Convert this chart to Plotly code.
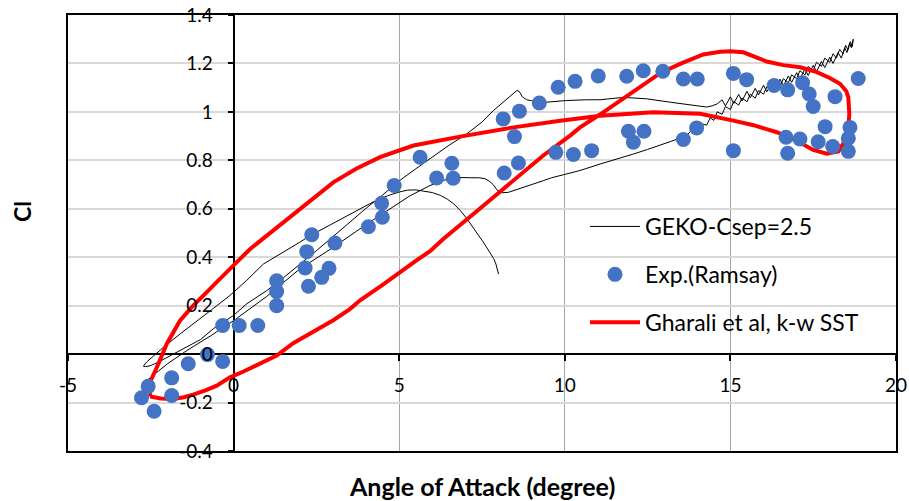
import plotly.graph_objects as go

# ---------------- data ----------------
exp_alpha = [-2.78, -2.58, -2.40, -1.87, -1.87, -1.37, -0.79, -0.33, -0.33, 0.17, 0.73,
             1.30, 1.30, 1.30, 2.36, 2.21, 2.16, 2.26, 2.66, 2.88, 3.06, 4.07, 4.49, 4.47,
             4.85, 5.63, 6.59, 6.13, 6.63, 8.14, 8.63, 8.48, 8.17, 8.60, 9.23, 9.80, 9.73,
             10.31, 11.01, 11.87, 12.37, 12.96, 13.58, 14.00, 15.09, 15.49, 16.32, 16.73,
             17.18, 17.38, 17.50, 18.16, 18.86, 10.26, 10.81, 11.92, 12.07, 12.39, 13.58,
             13.98, 15.09, 16.68, 16.73, 17.10, 17.65, 17.86, 18.09, 18.61, 18.56, 18.56]
exp_cl = [-0.180, -0.133, -0.236, -0.098, -0.171, -0.040, -0.002, -0.030, 0.118, 0.118, 0.118,
          0.303, 0.258, 0.200, 0.493, 0.423, 0.356, 0.280, 0.317, 0.354, 0.459, 0.526, 0.565, 0.623,
          0.696, 0.813, 0.788, 0.727, 0.726, 0.971, 1.003, 0.898, 0.748, 0.789, 1.037, 1.102, 0.833,
          1.126, 1.148, 1.147, 1.170, 1.168, 1.136, 1.136, 1.159, 1.133, 1.109, 1.091,
          1.120, 1.074, 1.022, 1.063, 1.138, 0.824, 0.840, 0.920, 0.875, 0.920, 0.886,
          0.934, 0.840, 0.895, 0.829, 0.888, 0.877, 0.939, 0.857, 0.936, 0.891, 0.837]

gharali_alpha = [-2.52, -2.20, -1.82, -1.50, -1.22, -0.85, -0.51, -0.11, 0.30, 0.70, 1.00, 1.30,
                 1.80, 2.51, 3.01, 3.50, 3.82, 4.52, 5.02, 5.50, 5.93, 6.33, 7.34, 8.35, 9.35,
                 10.16, 10.46, 11.06, 11.87, 12.47, 12.88, 13.48, 14.18, 14.69, 15.00, 15.39,
                 15.75, 16.10, 16.60, 17.11, 17.61, 18.00, 18.31, 18.50, 18.56, 18.59, 18.56,
                 18.46, 18.26, 17.91, 17.50, 17.00, 16.40, 15.70, 15.09, 14.09, 12.67, 11.07,
                 9.86, 8.45, 6.84, 5.43, 4.42, 3.70, 3.01, 2.01, 1.00, 0.50, -0.11, -0.61,
                 -1.27, -1.62, -2.02, -2.27, -2.50, -2.52, -2.52]
gharali_cl = [-0.175, -0.183, -0.185, -0.178, -0.167, -0.150, -0.130, -0.096, -0.072, -0.047, -0.028, -0.006,
              0.045, 0.100, 0.140, 0.185, 0.222, 0.288, 0.340, 0.385, 0.425, 0.475, 0.590, 0.706, 0.820,
              0.902, 0.936, 0.989, 1.067, 1.125, 1.160, 1.198, 1.237, 1.248, 1.250, 1.246,
              1.228, 1.208, 1.193, 1.184, 1.164, 1.140, 1.116, 1.085, 1.060, 0.992, 0.936,
              0.881, 0.837, 0.827, 0.843, 0.881, 0.916, 0.945, 0.964, 0.992, 0.998, 0.984,
              0.963, 0.936, 0.898, 0.861, 0.813, 0.765, 0.709, 0.600, 0.490, 0.434, 0.352, 0.283,
              0.193, 0.138, 0.042, -0.040, -0.109, -0.125, -0.175]

# GEKO: initial transient (from mean angle down to minimum angle)
geko_start_alpha = [8.00, 7.97, 7.92, 7.85, 7.78, 7.70, 7.62, 7.50, 7.35, 7.20, 7.04, 6.85, 6.65,
                    6.45, 6.25, 6.00, 5.75, 5.50, 5.25, 5.02, 4.70, 4.40, 4.10, 3.82, 3.40, 3.00,
                    2.60, 2.31, 2.00, 1.60, 1.20, 0.90, 0.40, -0.11, -0.60, -1.11, -1.60, -2.12,
                    -2.45, -2.62, -2.70, -2.72]
geko_start_cl = [0.330, 0.350, 0.372, 0.395, 0.412, 0.428, 0.445, 0.470, 0.500, 0.530, 0.560, 0.592, 0.620,
                 0.640, 0.655, 0.667, 0.674, 0.678, 0.677, 0.670, 0.656, 0.640, 0.620, 0.600, 0.570, 0.540,
                 0.510, 0.489, 0.462, 0.428, 0.395, 0.372, 0.305, 0.242, 0.190, 0.138, 0.085, 0.028,
                 -0.010, -0.032, -0.045, -0.050]

# GEKO: upstroke
geko_up_alpha = [-2.65, -2.50, -2.30, -2.00, -1.62, -1.00, -0.61, 0.00, 0.40, 1.00, 1.50, 2.00, 2.50,
                 3.00, 3.50, 4.00, 4.50, 5.00, 5.50, 6.00, 6.50, 7.00, 7.50, 7.84, 8.14, 8.35, 8.55,
                 8.62, 8.72, 8.85, 9.00, 9.45, 10.06, 10.66, 11.06, 11.77, 12.47, 13.18, 13.88, 14.28,
                 14.45, 14.60, 14.75, 14.85, 15.00, 15.10, 15.25, 15.35, 15.50, 15.60, 15.75, 15.85,
                 16.00, 16.10, 16.25, 16.35, 16.50, 16.60, 16.75, 16.85, 17.00, 17.10, 17.25, 17.35,
                 17.50, 17.60, 17.75, 17.85, 18.00, 18.10, 18.25, 18.35, 18.45, 18.52, 18.60, 18.65,
                 18.71]
geko_up_cl = [-0.052, -0.047, -0.035, -0.013, 0.014, 0.060, 0.105, 0.160, 0.208, 0.262, 0.315, 0.370, 0.427,
              0.485, 0.545, 0.602, 0.657, 0.715, 0.765, 0.815, 0.862, 0.905, 0.958, 1.005, 1.040, 1.062, 1.088,
              1.085, 1.062, 1.050, 1.046, 1.040, 1.047, 1.050, 1.050, 1.060, 1.054, 1.040, 1.026, 1.020,
              1.025, 1.033, 1.050, 1.025, 1.062, 1.035, 1.072, 1.045, 1.085, 1.058, 1.097, 1.070,
              1.110, 1.083, 1.122, 1.095, 1.135, 1.108, 1.148, 1.122, 1.162, 1.136, 1.177, 1.150,
              1.192, 1.166, 1.208, 1.183, 1.226, 1.200, 1.245, 1.222, 1.265, 1.245, 1.285, 1.265,
              1.300]

# GEKO: downstroke
geko_down_alpha = [18.68, 18.62, 18.55, 18.48, 18.40, 18.30, 18.20, 18.10, 18.00, 17.85, 17.75, 17.60,
                   17.50, 17.35, 17.25, 17.10, 17.00, 16.85, 16.75, 16.60, 16.50, 16.35, 16.25, 16.10,
                   16.00, 15.85, 15.75, 15.60, 15.50, 15.35, 15.25, 15.10, 15.00, 14.85, 14.75, 14.60,
                   14.50, 14.39, 14.28, 14.15, 14.00, 13.85, 13.70, 13.55, 13.40, 13.20, 13.00, 12.50,
                   12.07, 11.50, 11.07, 10.46, 10.06, 9.60, 9.35, 9.00, 8.65, 8.30, 8.10, 7.95, 7.85,
                   7.74, 7.60, 7.40, 7.14, 6.63, 6.30, 5.93, 5.33, 5.00, 4.50, 4.00, 3.00, 2.00, 1.00,
                   0.00, -0.70, -1.42, -2.00, -2.40, -2.62]
geko_down_cl = [1.270, 1.290, 1.255, 1.275, 1.240, 1.258, 1.222, 1.240, 1.205, 1.222, 1.188, 1.205,
                1.170, 1.188, 1.153, 1.170, 1.137, 1.153, 1.120, 1.137, 1.104, 1.120, 1.088, 1.104,
                1.073, 1.088, 1.057, 1.073, 1.042, 1.057, 1.028, 1.043, 1.010, 1.022, 0.990, 1.000,
                0.965, 0.975, 0.945, 0.950, 0.925, 0.928, 0.905, 0.905, 0.888, 0.878, 0.868, 0.845,
                0.826, 0.804, 0.785, 0.758, 0.744, 0.728, 0.716, 0.700, 0.682, 0.668, 0.666, 0.678, 0.698,
                0.712, 0.724, 0.728, 0.728, 0.730, 0.715, 0.696, 0.654, 0.625, 0.580, 0.535, 0.440, 0.352, 0.238,
                0.138, 0.075, 0.014, -0.040, -0.085, -0.109]

geko_alpha = geko_start_alpha + geko_up_alpha + geko_down_alpha
geko_cl = geko_start_cl + geko_up_cl + geko_down_cl

x_ticks = [-5, 0, 5, 10, 15, 20]
x_tick_text = ["-5", "0", "5", "10", "15", "20"]
y_ticks = [-0.4, -0.2, 0, 0.2, 0.4, 0.6, 0.8, 1.0, 1.2, 1.4]
y_tick_text = ["-0.4", "-0.2", "0", "0.2", "0.4", "0.6", "0.8", "1", "1.2", "1.4"]

FONT = "Lato"

# ---------------- figure ----------------
fig = go.Figure()
fig.add_trace(go.Scatter(x=geko_alpha, y=geko_cl, mode="lines",
                         line=dict(color="black", width=1),
                         name="GEKO-Csep=2.5", legendgroup="g1", legendrank=1))
fig.add_trace(go.Scatter(x=gharali_alpha, y=gharali_cl, mode="lines",
                         line=dict(color="#FF0000", width=4),
                         name="Gharali et al, k-w SST", legendgroup="g3", legendrank=3))
fig.add_trace(go.Scatter(x=exp_alpha, y=exp_cl, mode="markers",
                         marker=dict(color="#4472C4", size=15),
                         name="Exp.(Ramsay)", legendgroup="g2", legendrank=2))
# invisible trace to carry the axes crossing at zero
fig.add_trace(go.Scatter(x=[0], y=[0], xaxis="x2", yaxis="y2", mode="markers",
                         marker=dict(opacity=0), showlegend=False, hoverinfo="skip"))

y_zero_pos = (0 - (-0.4)) / 1.8
x_zero_pos = (0 - (-5)) / 25

fig.update_layout(
    width=909, height=501,
    margin=dict(l=68, r=13, t=15, b=50, autoexpand=False),
    paper_bgcolor="white", plot_bgcolor="white",
    font=dict(family=FONT, color="black"),
    showlegend=True,
    xaxis=dict(range=[-5, 20], tickvals=x_ticks, showticklabels=False, ticks="",
               showgrid=True, gridcolor="#a6a6a6", gridwidth=1, automargin=False,
               zeroline=True, zerolinecolor="black", zerolinewidth=1.5,
               showline=True, mirror=True, linecolor="black", linewidth=2),
    yaxis=dict(range=[-0.4, 1.4], tickvals=y_ticks, showticklabels=False, ticks="",
               showgrid=True, gridcolor="#d9d9d9", gridwidth=2, automargin=False,
               zeroline=True, zerolinecolor="black", zerolinewidth=1.5,
               showline=True, mirror=True, linecolor="black", linewidth=2),
    xaxis2=dict(overlaying="x", anchor="free", position=y_zero_pos, side="bottom",
                range=[-5, 20], tickvals=x_ticks, ticktext=x_tick_text, automargin=False,
                ticks="outside", ticklen=6, tickwidth=1.5, tickcolor="black",
                showgrid=False, zeroline=False, showline=False,
                tickfont=dict(size=19, family=FONT), ticklabelstandoff=8),
    yaxis2=dict(overlaying="y", anchor="free", position=x_zero_pos, side="left",
                range=[-0.4, 1.4], tickvals=y_ticks, ticktext=y_tick_text, automargin=False,
                ticks="outside", ticklen=6, tickwidth=1.5, tickcolor="black",
                showgrid=False, zeroline=False, showline=False,
                tickfont=dict(size=19, family=FONT), ticklabelstandoff=11),
    legend=dict(x=(585 - 68) / 828, y=(451 - 205) / 436, xanchor="left", yanchor="top",
                bgcolor="rgba(0,0,0,0)", font=dict(size=23, family=FONT),
                tracegroupgap=15, itemwidth=50, traceorder="grouped"),
    annotations=[
        dict(text="<b>Angle of Attack (degree)</b>", xref="paper", yref="paper",
             x=(481.5 - 68) / 828, y=(451 - 486) / 436, xanchor="center", yanchor="middle",
             showarrow=False, font=dict(size=25, family=FONT)),
        dict(text="<b>Cl</b>", xref="paper", yref="paper", textangle=-90,
             x=(22 - 68) / 828, y=(451 - 212) / 436, xanchor="center", yanchor="middle",
             showarrow=False, font=dict(size=23, family=FONT)),
    ],
)

fig.write_html("out.html")
